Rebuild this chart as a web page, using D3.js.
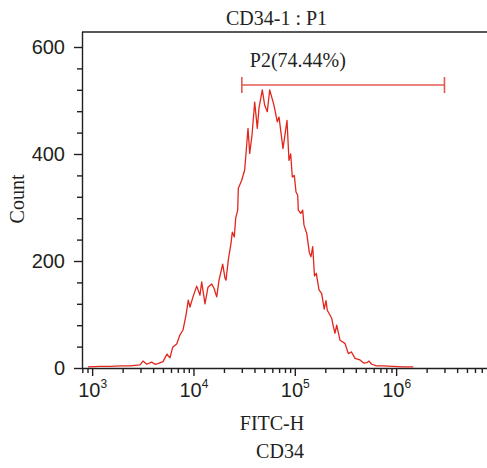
<!DOCTYPE html>
<html>
<head>
<meta charset="utf-8">
<script src="https://cdn.jsdelivr.net/npm/d3@7"></script>
<style>
  body { margin: 0; background: #fff; }
  svg { display: block; font-family: "Liberation Serif", "Times New Roman", serif; }
</style>
</head>
<body>
<svg id="histogram" width="487" height="468"></svg>
<script>
// FITC-H channel values (x) and event counts (y)
const fitc = [910, 1195, 1501, 1957, 2364, 2968, 3177, 3455, 3870, 4173,
    4467, 5004, 5480, 5867, 6239, 6832, 7365, 7884, 8442, 8892,
    9243, 9895, 10765, 11600, 12058, 12995, 13913, 15136, 15949, 16957,
    17865, 19434, 20477, 20950, 22072, 23462, 24170, 25293, 26110, 27327,
    27701, 28145, 29923, 32032, 34540, 35892, 37810, 40207, 42658, 44340,
    47783, 50466, 53540, 56545, 62350, 67215, 69867, 76488, 83776, 87654,
    91114, 94490, 98878, 102778, 106840, 108300, 114372, 119674, 123285, 131081,
    139064, 144544, 150213, 156500, 163050, 173350, 184280, 195100, 203240, 209330,
    231330, 239880, 249330, 259170, 279350, 312900, 337300, 362700, 392900, 440000,
    482000, 516000, 540000, 574100, 643000, 747300, 938000, 1177000, 1477000];
const counts = [2, 3, 3, 4, 4, 6, 13, 7, 11, 7,
    8, 12, 26, 19, 39, 45, 62, 71, 99, 127,
    114, 133, 153, 136, 161, 120, 151, 157, 149, 133,
    164, 194, 168, 164, 202, 233, 254, 245, 280, 295,
    336, 339, 351, 370, 448, 401, 435, 497, 448, 486,
    520, 491, 479, 520, 491, 460, 469, 410, 463, 388,
    400, 357, 360, 329, 323, 295, 289, 295, 267, 252,
    216, 208, 227, 172, 177, 146, 139, 110, 126, 108,
    93, 78, 65, 80, 52, 46, 27, 30, 18, 15,
    9, 10, 13, 7, 4, 4, 3, 2, 2];

const yMajor = [0, 200, 400, 600];
const xDecades = [3, 4, 5, 6];          // 10^3 .. 10^6 labelled
const gateRange = [30000, 3000000];
const gateCount = 529;
const gateLabel = 'P2(74.44%)';

function drawHistogram() {
    const svg = d3.select('#histogram');
    svg.selectAll('*').remove();

    const left = 82, top = 32, bottom = 368;
    const decadePx = 101.33;

    // log axis runs past the right edge of the picture
    const x = d3.scaleLog()
        .domain([Math.pow(10, 2.9), 1e7])
        .range([left, left + 4.1 * decadePx]);

    const y = d3.scaleLinear()
        .domain([0, 600])
        .range([bottom, 47]);

    const axisColor = '#231f20';

    // minor ticks on x: 2..9 of each decade
    const xMinor = [];
    for (let e = 2; e <= 6; e++) {
        for (let m = 2; m <= 9; m++) {
            const v = m * Math.pow(10, e);
            if (v >= x.domain()[0] && v < x.domain()[1]) xMinor.push(v);
        }
    }
    const yMinor = d3.range(0, 601, 40).filter(v => v % 200 !== 0);

    // frame: top line
    svg.append('line')
        .attr('x1', left).attr('x2', x.range()[1])
        .attr('y1', top).attr('y2', top)
        .attr('stroke', axisColor)
        .attr('stroke-width', 1.4);

    // X axis, minor
    const gx = svg.append('g').attr('transform', `translate(0,${bottom})`);
    gx.call(d3.axisBottom(x).tickValues(xMinor).tickSize(5).tickFormat(''));
    // X axis, major
    const gxMajor = svg.append('g').attr('transform', `translate(0,${bottom})`);
    gxMajor.call(d3.axisBottom(x)
        .tickValues(xDecades.map(e => Math.pow(10, e)))
        .tickSize(8)
        .tickFormat(''));
    gxMajor.select('.domain').remove();
    gx.select('.domain').attr('d', `M${left},0.5H${x.range()[1]}`);

    gxMajor.selectAll('.tick').each(function(d) {
        const t = d3.select(this).append('text')
            .attr('y', 28.7)
            .attr('fill', axisColor)
            .attr('text-anchor', 'middle')
            .style('font-size', '20px');
        t.append('tspan').text('10');
        t.append('tspan')
            .attr('dy', -9)
            .style('font-size', '12px')
            .text(Math.round(Math.log10(d)));
    });

    // Y axis, minor
    const gy = svg.append('g').attr('transform', `translate(${left},0)`);
    gy.call(d3.axisLeft(y).tickValues(yMinor).tickSize(5).tickFormat(''));
    gy.select('.domain').attr('d', `M0.5,${top}V${bottom}`);
    // Y axis, major
    const gyMajor = svg.append('g').attr('transform', `translate(${left},0)`);
    gyMajor.call(d3.axisLeft(y).tickValues(yMajor).tickSize(8).tickPadding(9));
    gyMajor.select('.domain').remove();
    gyMajor.selectAll('text')
        .style('font-size', '20px')
        .attr('fill', axisColor);

    svg.selectAll('.tick line, .domain')
        .attr('stroke', axisColor)
        .attr('stroke-width', 1.4);

    // histogram trace
    const data = fitc.map((v, i) => ({ fitc: v, count: counts[i] }));
    const line = d3.line()
        .x(d => x(d.fitc))
        .y(d => y(d.count));

    svg.append('path')
        .datum(data)
        .attr('d', line)
        .attr('fill', 'none')
        .attr('stroke', '#e2261c')
        .attr('stroke-width', 1.3)
        .attr('stroke-linejoin', 'round');

    // gate P2
    const gate = svg.append('g')
        .attr('stroke', '#e35a4f')
        .attr('stroke-width', 1.6);
    gate.append('line')
        .attr('x1', x(gateRange[0])).attr('x2', x(gateRange[1]))
        .attr('y1', y(gateCount)).attr('y2', y(gateCount));
    gateRange.forEach(v => {
        gate.append('line')
            .attr('x1', x(v)).attr('x2', x(v))
            .attr('y1', y(gateCount) - 8).attr('y2', y(gateCount) + 8);
    });
    svg.append('text')
        .attr('x', x(gateRange[0]) + 8)
        .attr('y', 67)
        .attr('fill', axisColor)
        .style('font-size', '20px')
        .text(gateLabel);

    // title and axis labels
    svg.append('text')
        .attr('x', 276.5)
        .attr('y', 25)
        .attr('text-anchor', 'middle')
        .attr('fill', axisColor)
        .style('font-size', '20px')
        .text('CD34-1 : P1');

    svg.append('text')
        .attr('transform', 'rotate(-90)')
        .attr('x', -199)
        .attr('y', 24)
        .attr('text-anchor', 'middle')
        .attr('fill', axisColor)
        .style('font-size', '20px')
        .text('Count');

    svg.append('text')
        .attr('x', 272)
        .attr('y', 430)
        .attr('text-anchor', 'middle')
        .attr('fill', axisColor)
        .style('font-size', '20px')
        .text('FITC-H');

    svg.append('text')
        .attr('x', 280)
        .attr('y', 458)
        .attr('text-anchor', 'middle')
        .attr('fill', axisColor)
        .style('font-size', '20px')
        .text('CD34');
}

drawHistogram();
</script>
</body>
</html>
